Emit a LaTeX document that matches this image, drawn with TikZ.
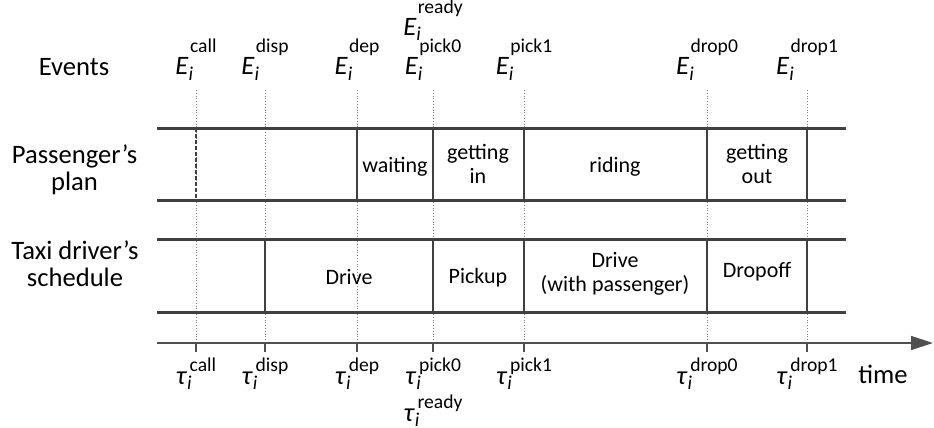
\documentclass[tikz,border=0pt]{standalone}
\usepackage{fontspec}
\setmainfont{Carlito}
\usepackage{xcolor}
\usetikzlibrary{arrows.meta}

\definecolor{bandgray}{HTML}{404040}
\definecolor{axisgray}{HTML}{505050}

\newcommand{\supsz}{\fontsize{9.8}{11}\selectfont}
\newcommand{\evt}[1]{\textit{E}\rlap{\raisebox{-2.5pt}{\supsz\textit{i}}}\kern0.05em\raisebox{11pt}{\supsz #1}}
\newcommand{\tevt}[1]{\textit{τ}\rlap{\raisebox{-2.5pt}{\supsz\textit{i}}}\kern0.1em\raisebox{6.5pt}{\supsz #1}}

\begin{document}
\begin{tikzpicture}[x=0.5pt,y=-0.5pt,
    font=\fontsize{13.3}{13.5}\selectfont,
    band/.style={line width=1.5pt, bandgray},
    split/.style={line width=1.3pt, bandgray},
    guide/.style={densely dotted, line width=0.4pt, gray},
    axisline/.style={line width=0.7pt, axisgray},
    lab/.style={anchor=base, inner sep=0pt},
    seg/.style={align=center, inner sep=0pt},
    small/.style={font=\fontsize{11}{12.2}\selectfont}]
          \useasboundingbox (0,0) rectangle (934,428);

          % Define band corners
          \coordinate (pT-l) at (157,128); \coordinate (pT-r) at (846,128);
          \coordinate (pB-l) at (157,200); \coordinate (pB-r) at (846,200);
          \coordinate (tT-l) at (157,239); \coordinate (tT-r) at (846,239);
          \coordinate (tB-l) at (157,312); \coordinate (tB-r) at (846,312);
          \coordinate (ax-l) at (157,343); \coordinate (ax-r) at (933,343);

          % Define events
          \foreach \n/\x in {call/196,disp/265,dep/357,pick0/433,pick1/524,drop0/707,drop1/807}{
            \coordinate (ev-\n) at (\x,90);
            \coordinate (ax-\n) at (\x,343);
            \coordinate (tk-\n) at (\x,352);
            \node[lab] (E-\n) at (\x,75) {\evt{\n}};
            \node[lab] (T-\n) at (\x,384) {\tevt{\n}};
            \draw[guide] (ev-\n) -- (ax-\n);
            \draw[axisline] (ax-\n) -- (tk-\n);
          }
          \node[lab] (E-ready) at (433,35) {\evt{ready}};
          \node[lab] (T-ready) at (433,421) {\tevt{ready}};

          % Row labels
          \node[seg] (events) at (74,67.5) {Events};
          \node[seg] (plan) at (74.5,170) {Passenger’s\\plan};
          \node[seg] (sched) at (75,263.5) {Taxi driver’s\\schedule};
          \node[lab] (time) at (883,383) {time};

          % Draw splits
          \draw[split, dash pattern=on 2pt off 1pt] (ev-call |- pT-l) -- (ev-call |- pB-l);
          \foreach \n in {dep,pick0,pick1,drop0,drop1}
            \draw[split] (ev-\n |- pT-l) -- (ev-\n |- pB-l);
          \foreach \n in {disp,pick0,pick1,drop0,drop1}
            \draw[split] (ev-\n |- tT-l) -- (ev-\n |- tB-l);

          % Draw bands and time axis
          \draw[band] (pT-l) -- (pT-r);
          \draw[band] (pB-l) -- (pB-r);
          \draw[band] (tT-l) -- (tT-r);
          \draw[band] (tB-l) -- (tB-r);
          \draw[axisline, -{Triangle[length=11pt,width=7pt]}] (ax-l) -- (ax-r);

          % Segment texts
          \node[lab, small] (wait) at (395,172) {waiting};
          \node[seg, small] (getin) at (478,164) {getting\\in};
          \node[lab, small] (ride) at (615,172) {riding};
          \node[seg, small] (getout) at (757,164) {getting\\out};
          \node[lab, small] (drive) at (349,285) {Drive};
          \node[lab, small] (pickup) at (478,283) {Pickup};
          \node[seg, small] (drivep) at (615,274) {Drive\\(with passenger)};
          \node[lab, small] (dropoff) at (757,277) {Dropoff};
        \end{tikzpicture}
\end{document}
